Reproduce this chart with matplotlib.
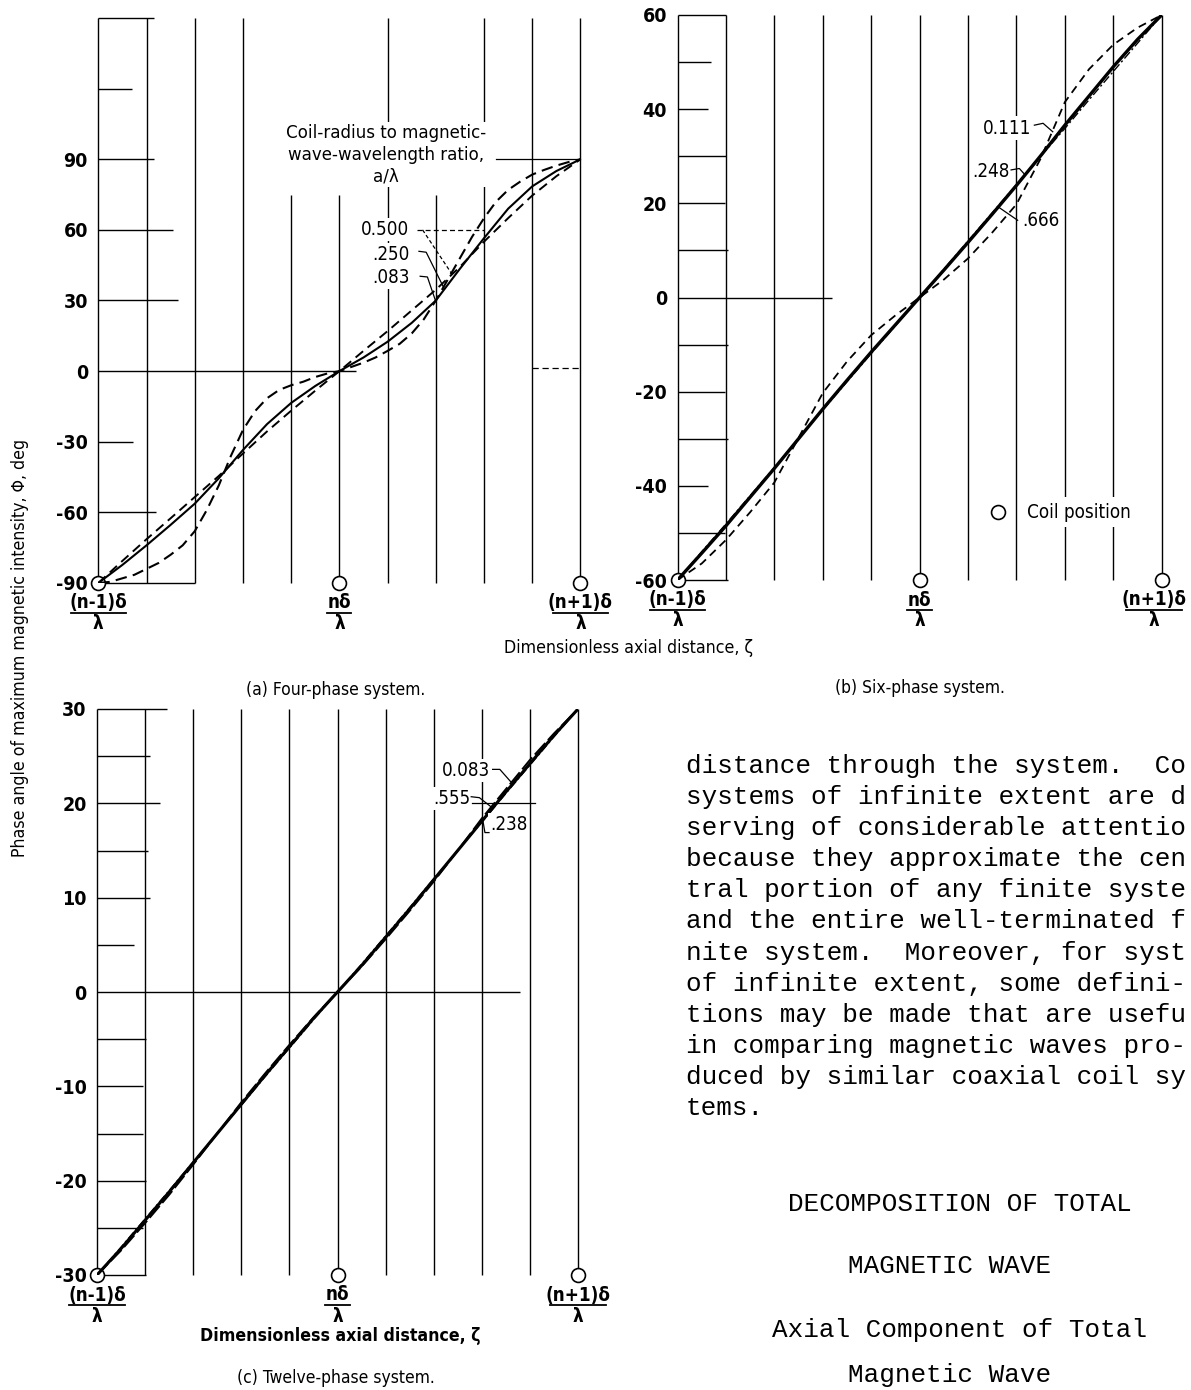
import matplotlib.pyplot as plt
from matplotlib import transforms

# ---- values: phase angle (deg) vs axial distance ----
# axial distance is counted in coil spacings, 0 = (n-1)delta/lambda, 2 = (n+1)delta/lambda
XI = [0.0, 0.1, 0.2, 0.3, 0.4, 0.5, 0.6, 0.7, 0.8, 0.9, 1.0,
      1.1, 1.2, 1.3, 1.4, 1.5, 1.6, 1.7, 1.8, 1.9, 2.0]
XI_FINE = [0.00, 0.05, 0.10, 0.15, 0.20, 0.25, 0.30, 0.35, 0.40, 0.45, 0.50,
           0.55, 0.60, 0.65, 0.70, 0.75, 0.80, 0.85, 0.90, 0.95, 1.00,
           1.05, 1.10, 1.15, 1.20, 1.25, 1.30, 1.35, 1.40, 1.45, 1.50,
           1.55, 1.60, 1.65, 1.70, 1.75, 1.80, 1.85, 1.90, 1.95, 2.00]
GRID_XI = [0.0, 0.2, 0.4, 0.6, 0.8, 1.0, 1.2, 1.4, 1.6, 1.8, 2.0]
COIL_XI = [0.0, 1.0, 2.0]
COIL_LABELS = ["(n-1)δ", "nδ", "(n+1)δ"]

# (a) four-phase system, a/lambda = 0.083, 0.250, 0.500
A_083 = [-90, -89.5, -88, -86.5, -84, -81.5, -78, -74, -68, -59, -48.5,
         -36, -25, -17, -11.5, -8, -6, -4.5, -2.5, -1, 0,
         1.8, 3.6, 5.8, 8.6, 11.6, 16, 22, 30, 39, 48,
         57, 65, 72, 77, 80.5, 83.5, 85.5, 87.3, 88.8, 90]
A_250 = [-90, -82.3, -74, -65.3, -56.3, -45.5, -33.5, -22.5, -13.5, -6.3, 0,
         5.8, 12.5, 20.5, 30, 43.5, 56.5, 69, 78.5, 85, 90]
A_500 = [-90, -80.6, -71.4, -62.5, -53.5, -44.5, -35, -25.6, -16.8, -8.3, 0,
         8.6, 17, 25.8, 34.6, 44.3, 55, 65, 74.6, 82.8, 90]
A_TICKS = [-90, -60, -30, 0, 30, 60, 90]

# (b) six-phase system, a/lambda = 0.111, 0.248, 0.666
B_111 = [-60, -56.5, -51.5, -45.6, -39.3, -29.8, -20.3, -13.6, -8, -3.8, 0,
         3.8, 8.3, 13.8, 19.8, 29.5, 41.5, 48.5, 53.7, 57.3, 60]
B_248 = [-60, -54.3, -48.5, -42.4, -36.3, -30, -23.7, -17.6, -11.6, -5.8, 0,
         5.8, 11.7, 17.7, 23.8, 30.1, 36.6, 42.8, 49, 54.8, 60]
B_666 = [-60, -54, -48.1, -42.1, -36.1, -30, -23.9, -17.9, -11.9, -6, 0,
         6, 12, 18, 24, 30, 35.9, 42, 48, 54, 60]
B_TICKS = [-60, -40, -20, 0, 20, 40, 60]

# (c) twelve-phase system, a/lambda = 0.083, 0.238, 0.555
C_083 = [-30, -27.4, -24.5, -21.5, -18.3, -15, -11.7, -8.6, -5.6, -2.7, 0,
         2.7, 5.6, 8.6, 11.7, 15, 18.4, 21.5, 24.6, 27.4, 30]
C_238 = [-30, -27.2, -24.2, -21.2, -18.1, -15, -11.9, -8.8, -5.8, -2.8, 0,
         2.8, 5.8, 8.8, 11.9, 15, 18.1, 21.2, 24.2, 27.2, 30]
C_555 = [-30, -27.05, -24.05, -21.05, -18, -15, -12, -8.95, -5.95, -2.95, 0,
         2.95, 5.95, 8.95, 12, 15, 18, 21.05, 24.05, 27.05, 30]
C_TICKS = [-30, -20, -10, 0, 10, 20, 30]

# the page text runs off the right edge of the scan; only what shows is kept
BODY_LINES = [
    "distance through the system.  Co",
    "systems of infinite extent are d",
    "serving of considerable attentio",
    "because they approximate the cen",
    "tral portion of any finite syste",
    "and the entire well-terminated f",
    "nite system.  Moreover, for syst",
    "of infinite extent, some defini-",
    "tions may be made that are usefu",
    "in comparing magnetic waves pro-",
    "duced by similar coaxial coil sy",
    "tems.",
]
HEADINGS = ["DECOMPOSITION OF TOTAL", "MAGNETIC WAVE",
            "Axial Component of Total", "Magnetic Wave"]

# ---- figure ----
W, H = 1191, 1390
fig = plt.figure(figsize=(W / 100, H / 100), dpi=100)

SANS = dict(family="DejaVu Sans", fontstretch="condensed")
WHITE = dict(facecolor="white", edgecolor="none", pad=1.5)


def px_rect(x0, y_top, x1, y_bot):
    # pixel box of the plotting area -> figure fraction rect
    return [x0 / W, 1 - y_bot / H, (x1 - x0) / W, (y_bot - y_top) / H]


def setup_panel(ax, vmin, vmax, ticks, rules, grid_tops, last_dx=0):
    ax.set_xlim(0, 2)
    ax.set_ylim(vmin, vmax)
    ax.patch.set_visible(False)
    for s in ax.spines.values():
        s.set_visible(False)
    ax.set_xticks([])
    ax.set_yticks(ticks, labels=[str(t) for t in ticks],
                  fontsize=14, fontweight="bold", **SANS)
    ax.tick_params(axis="y", length=0, pad=7.5)

    ax.vlines(GRID_XI, vmin, grid_tops, colors="k", lw=1.0, zorder=1, clip_on=False)
    ax.hlines(list(rules.keys()), 0, list(rules.values()), colors="k", lw=1.0,
              zorder=1, clip_on=False)

    # coil positions and the fraction labels under them
    ax.plot(COIL_XI, [vmin] * 3, "o", ms=10, mfc="white", mec="k", mew=1.2,
            zorder=2, clip_on=False)
    for i, (x, lab) in enumerate(zip(COIL_XI, COIL_LABELS)):
        dx = last_dx if i == 2 else 0
        num_t = transforms.offset_copy(ax.transData, fig=fig, x=dx, y=-20, units="dots")
        bar_t = transforms.offset_copy(ax.transData, fig=fig, x=dx, y=-30, units="dots")
        den_t = transforms.offset_copy(ax.transData, fig=fig, x=dx, y=-41, units="dots")
        ax.text(x, vmin, lab, transform=num_t, ha="center", va="center",
                fontsize=13.5, fontweight="bold", **SANS)
        half = 0.115 if len(lab) > 2 else 0.05
        ax.plot([x - half, x + half], [vmin, vmin], color="k", lw=1.3,
                transform=bar_t, clip_on=False)
        ax.text(x, vmin, "λ", transform=den_t, ha="center", va="center",
                fontsize=13.5, fontweight="bold", **SANS)


def leader(ax, xs, ys, **kw):
    ax.plot(xs, ys, color="k", lw=0.9, zorder=5, clip_on=False, **kw)


# ---- (a) Four-phase system ----
ax_a = fig.add_axes(px_rect(98.3, 18, 580.5, 583))
setup_panel(ax_a, -90, 150, A_TICKS,
            {150: 0.23, 120: 0.14, 90: 0.23, 60: 0.31, 30: 0.33, 0: 1.07,
             -30: 0.145, -60: 0.24, -90: 0.40},
            [150, 150, 150, 150, 75, 75, 150, 75, 150, 150, 150])
ax_a.plot(XI_FINE, A_083, color="k", lw=1.5, dashes=[5.5, 3], zorder=3)
ax_a.plot(XI, A_250, color="k", lw=1.5, zorder=3)
ax_a.plot(XI, A_500, color="k", lw=1.4, dashes=[5, 3], zorder=3)

ax_a.text(1.194, 92, "Coil-radius to magnetic-\nwave-wavelength ratio,\na/λ",
          ha="center", va="center", multialignment="center", fontsize=13.3,
          linespacing=1.25, bbox=WHITE, zorder=4, **SANS)
leader(ax_a, [1.65, 2.0], [90, 90])
for lab, v in zip(["0.500", ".250", ".083"], [60, 49.5, 39.8]):
    ax_a.text(1.29, v, lab, ha="right", va="center", fontsize=13.5,
              bbox=WHITE, zorder=4, **SANS)
leader(ax_a, [1.32, 1.60], [60, 60], dashes=[4, 2.5])
leader(ax_a, [1.345, 1.465], [60, 41.5], dashes=[3, 2])
leader(ax_a, [1.33, 1.36, 1.435], [50.9, 50.5, 35])
leader(ax_a, [1.335, 1.365, 1.40], [40.3, 40.0, 29.5])
leader(ax_a, [1.8, 2.0], [1.5, 1.5], dashes=[5, 3])

# ---- (b) Six-phase system ----
ax_b = fig.add_axes(px_rect(677.5, 15, 1161.7, 580))
setup_panel(ax_b, -60, 60, B_TICKS,
            {60: 0.2, 50: 0.14, 40: 0.125, 30: 0.2, 20: 0.195, 10: 0.21, 0: 0.64,
             -10: 0.21, -20: 0.195, -30: 0.21, -40: 0.125, -50: 0.195, -60: 0.21},
            [60] * 11, last_dx=-8)
ax_b.plot(XI, B_111, color="k", lw=1.3, dashes=[4.5, 3], zorder=3)
ax_b.plot(XI, B_248, color="k", lw=2.4, zorder=3)
ax_b.plot(XI, B_666, color="k", lw=1.0, dashes=[6, 2, 1.5, 2], zorder=3)

ax_b.text(1.46, 36, "0.111", ha="right", va="center", fontsize=13.5,
          bbox=WHITE, zorder=4, **SANS)
ax_b.text(1.37, 26.7, ".248", ha="right", va="center", fontsize=13.5,
          bbox=WHITE, zorder=4, **SANS)
ax_b.text(1.426, 16.4, ".666", ha="left", va="center", fontsize=13.5,
          bbox=WHITE, zorder=4, **SANS)
leader(ax_b, [1.474, 1.51, 1.55], [36.6, 37.0, 35.2])
leader(ax_b, [1.378, 1.412, 1.433], [27.1, 27.4, 26.2])
leader(ax_b, [1.323, 1.405], [19.3, 16.4])

ax_b.plot([1.325], [-45.6], "o", ms=10, mfc="white", mec="k", mew=1.2, zorder=4)
ax_b.text(1.444, -45.6, "Coil position", ha="left", va="center", fontsize=13.5,
          bbox=dict(facecolor="white", edgecolor="none", pad=4), zorder=4, **SANS)

# ---- (c) Twelve-phase system ----
ax_c = fig.add_axes(px_rect(97, 709, 578, 1275))
setup_panel(ax_c, -30, 30, C_TICKS,
            {30: 0.29, 25: 0.22, 20: 0.26, 15: 0.21, 10: 0.22, 5: 0.155, 0: 1.76,
             -5: 0.205, -10: 0.19, -15: 0.19, -20: 0.205, -25: 0.19, -30: 0.205},
            [30] * 11)
ax_c.plot(XI, C_083, color="k", lw=1.4, dashes=[8, 2], zorder=3)
ax_c.plot(XI, C_238, color="k", lw=2.2, zorder=3)
ax_c.plot(XI, C_555, color="k", lw=1.0, dashes=[6, 2, 1.5, 2], zorder=3)

ax_c.text(1.634, 23.5, "0.083", ha="right", va="center", fontsize=13.5,
          bbox=WHITE, zorder=4, **SANS)
ax_c.text(1.551, 20.5, ".555", ha="right", va="center", fontsize=13.5,
          bbox=WHITE, zorder=4, **SANS)
ax_c.text(1.634, 17.8, ".238", ha="left", va="center", fontsize=13.5,
          bbox=WHITE, zorder=4, **SANS)
leader(ax_c, [1.56, 1.82], [20, 20])
leader(ax_c, [1.645, 1.675, 1.72], [23.6, 23.6, 22.3])
leader(ax_c, [1.556, 1.59, 1.645], [20.7, 20.6, 19.5])
leader(ax_c, [1.63, 1.613, 1.605], [16.9, 16.9, 18.1])


# ---- axis titles and captions ----
def ftext(x, y, s, **kw):
    fig.text(x / W, 1 - y / H, s, **kw)


ftext(20, 648, "Phase angle of maximum magnetic intensity, Φ, deg", rotation=90,
      ha="center", va="center", fontsize=12.7, **SANS)
ftext(629, 648, "Dimensionless axial distance, ζ", ha="center", va="center",
      fontsize=12.7, **SANS)
ftext(340, 1336, "Dimensionless axial distance, ζ", ha="center", va="center",
      fontsize=12.7, fontweight="bold", **SANS)
ftext(336, 690, "(a) Four-phase system.", ha="center", va="center",
      fontsize=12.5, **SANS)
ftext(920, 688, "(b) Six-phase system.", ha="center", va="center",
      fontsize=12.5, **SANS)
ftext(336, 1378, "(c) Twelve-phase system.", ha="center", va="center",
      fontsize=12.5, **SANS)

# ---- typewritten page text on the right ----
MONO = dict(family="Liberation Mono", fontsize=18.7)
for i, line in enumerate(BODY_LINES):
    ftext(686, 773 + i * 31.1, line, ha="left", va="baseline", **MONO)
for (xc, yb), line in zip([(960, 1211), (950, 1273), (959, 1337), (950, 1382)], HEADINGS):
    ftext(xc, yb, line, ha="center", va="baseline", **MONO)

fig.savefig("out.png", dpi=100)
